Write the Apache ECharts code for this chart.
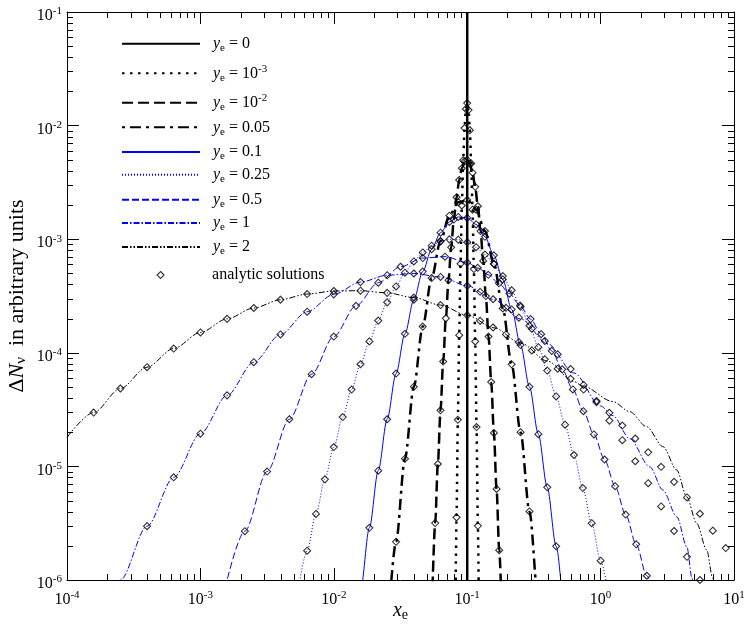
<!DOCTYPE html>
<html><head><meta charset="utf-8">
<script src="https://cdn.jsdelivr.net/npm/echarts@6/dist/echarts.min.js"></script>
<style>html,body{margin:0;padding:0;background:#fff;}#c{width:747px;height:631px;}</style>
</head><body><div id="c"></div>
<script>
const FONT = "'Liberation Serif','Times New Roman',serif";

// ---- data: [x_e, dN] ----
const ye0 = [[0.1, 1e-6], [0.1, 1e-1]];
const ye1e3 = [[0.08128,3.78e-7],[0.08318,3.56e-6],[0.08511,2.57e-5],[0.0871,1.43e-4],[0.08913,6.07e-4],[0.0912,1.98e-3],[0.09333,4.95e-3],[0.0955,9.51e-3],[0.09772,1.40e-2],[0.1,1.58e-2],[0.10233,1.37e-2],[0.10471,9.1e-3],[0.10715,4.65e-3],[0.10965,1.82e-3],[0.1122,5.46e-4],[0.11482,1.26e-4],[0.11749,2.22e-5],[0.12023,3.0e-6],[0.12303,3.12e-7]];
const ye1e2 = [[0.05495,8.6e-7],[0.05754,3.17e-6],[0.06026,1.05e-5],[0.0631,3.12e-5],[0.06607,8.37e-5],[0.06918,2.01e-4],[0.07244,4.36e-4],[0.07586,8.48e-4],[0.07943,1.49e-3],[0.08318,2.34e-3],[0.0871,3.32e-3],[0.0912,4.22e-3],[0.0955,4.84e-3],[0.1,4.99e-3],[0.1047,4.62e-3],[0.1096,3.85e-3],[0.1148,2.89e-3],[0.1202,1.95e-3],[0.1259,1.18e-3],[0.1318,6.44e-4],[0.1380,3.16e-4],[0.1445,1.39e-4],[0.1514,5.53e-5],[0.1585,1.97e-5],[0.1660,6.33e-6],[0.1738,1.83e-6],[0.1820,4.7e-7]];
const ye005 = [[0.02512,3.15e-7],[0.02929,2.17e-6],[0.03415,1.17e-5],[0.03981,5.03e-5],[0.04642,1.70e-4],[0.05412,4.55e-4],[0.0631,9.62e-4],[0.07356,1.61e-3],[0.08577,2.12e-3],[0.1,2.21e-3],[0.1166,1.82e-3],[0.1359,1.18e-3],[0.1585,6.08e-4],[0.1848,2.46e-4],[0.2154,7.92e-5],[0.2512,2.0e-5],[0.2929,4.01e-6],[0.3415,6.35e-7],[0.3981,7.9e-8]];
const ye01 = [[0.01359,1.98e-7],[0.01585,8.0e-7],[0.01848,2.88e-6],[0.02154,9.17e-6],[0.02512,2.60e-5],[0.02929,6.57e-5],[0.03415,1.47e-4],[0.03981,2.93e-4],[0.04642,5.19e-4],[0.05412,8.16e-4],[0.0631,1.14e-3],[0.07356,1.42e-3],[0.08577,1.57e-3],[0.1,1.54e-3],[0.1166,1.35e-3],[0.1359,1.05e-3],[0.1585,7.21e-4],[0.1848,4.42e-4],[0.2154,2.41e-4],[0.2512,1.17e-4],[0.2929,5.02e-5],[0.3415,1.92e-5],[0.3981,6.55e-6],[0.4642,1.98e-6],[0.5412,5.32e-7],[0.631,1.27e-7]];
const ye025 = [[0.005412,8.15e-7],[0.00631,1.81e-6],[0.007356,3.82e-6],[0.008577,7.69e-6],[0.01,1.48e-5],[0.01166,2.72e-5],[0.01359,4.75e-5],[0.01585,7.93e-5],[0.01848,1.26e-4],[0.02154,1.92e-4],[0.02512,2.78e-4],[0.02929,3.84e-4],[0.03415,5.07e-4],[0.03981,6.37e-4],[0.04642,7.65e-4],[0.05412,8.76e-4],[0.0631,9.57e-4],[0.07356,9.97e-4],[0.08577,9.91e-4],[0.1,9.40e-4],[0.1166,8.50e-4],[0.1359,7.33e-4],[0.1585,6.04e-4],[0.1848,4.74e-4],[0.2154,3.55e-4],[0.2512,2.54e-4],[0.2929,1.73e-4],[0.3415,1.12e-4],[0.3981,6.98e-5],[0.4642,4.13e-5],[0.5412,2.33e-5],[0.631,1.26e-5],[0.7356,6.45e-6],[0.8577,3.16e-6],[1.0,1.48e-6],[1.166,6.59e-7]];
const ye05 = [[1.468e-3,6.96e-7],[2.154e-3,2.69e-6],[3.162e-3,9.01e-6],[4.642e-3,2.60e-5],[6.813e-3,6.48e-5],[0.01,1.39e-4],[0.01468,2.59e-4],[0.02154,4.14e-4],[0.03162,5.72e-4],[0.04642,6.82e-4],[0.06813,7.02e-4],[0.1,6.24e-4],[0.12,5.60e-4],[0.144,4.86e-4],[0.1728,4.09e-4],[0.2074,3.32e-4],[0.2488,2.61e-4],[0.2986,1.98e-4],[0.3583,1.46e-4],[0.43,1.04e-4],[0.516,7.15e-5],[0.6192,4.76e-5],[0.743,3.06e-5],[0.8916,1.91e-5],[1.070,1.15e-5],[1.284,6.70e-6],[1.541,3.77e-6],[1.849,2.06e-6],[2.219,1.09e-6],[2.662,5.53e-7]];
const ye1Line = [[1.585e-4,3.0e-7],[2.512e-4,9.97e-7],[3.981e-4,2.98e-6],[6.31e-4,8.02e-6],[1e-3,1.94e-5],[1.585e-3,4.22e-5],[2.512e-3,8.26e-5],[3.981e-3,1.45e-4],[6.31e-3,2.30e-4],[0.01,3.27e-4],[0.01585,4.19e-4],[0.02512,4.82e-4],[0.03981,4.99e-4],[0.0631,4.65e-4],[0.1,3.89e-4],[0.1585,2.93e-4],[0.2512,1.99e-4],[0.3981,1.21e-4],[0.631,6.64e-5],[1.0,3.4e-5],[1.236,2.8e-5],[1.656,1.75e-5],[2.34,9.9e-6],[2.93,6.2e-6],[3.73,3.6e-6],[4.44,1.95e-6],[4.84,1.04e-6],[5.1,6e-7]];
const ye1Analytic = [[3.981e-4,2.98e-6],[6.31e-4,8.02e-6],[1e-3,1.94e-5],[1.585e-3,4.22e-5],[2.512e-3,8.26e-5],[3.981e-3,1.45e-4],[6.31e-3,2.30e-4],[0.01,3.27e-4],[0.01585,4.19e-4],[0.02512,4.82e-4],[0.03981,4.99e-4],[0.0631,4.65e-4],[0.1,3.89e-4],[0.125,3.44e-4],[0.1563,2.96e-4],[0.1953,2.49e-4],[0.2441,2.04e-4],[0.3052,1.63e-4],[0.3815,1.27e-4],[0.4768,9.69e-5],[0.596,7.19e-5],[0.745,5.21e-5],[0.9313,3.68e-5],[1.164,2.53e-5],[1.455,1.70e-5],[1.819,1.11e-5],[2.274,7.12e-6],[2.842,4.44e-6],[3.553,2.70e-6],[4.441,1.60e-6],[5.551,1.0e-6]];
const ye2Line = [[1e-4,1.8e-5],[1.585e-4,2.98e-5],[2.512e-4,4.85e-5],[3.981e-4,7.47e-5],[6.31e-4,1.09e-4],[1e-3,1.51e-4],[1.585e-3,1.99e-4],[2.512e-3,2.48e-4],[3.981e-3,2.93e-4],[6.31e-3,3.29e-4],[0.01,3.50e-4],[0.01585,3.52e-4],[0.02512,3.37e-4],[0.03981,3.06e-4],[0.0631,2.63e-4],[0.1,2.14e-4],[0.1585,1.66e-4],[0.2512,1.22e-4],[0.3981,8.47e-5],[0.631,5.59e-5],[0.735,5.1e-5],[1.236,3.72e-5],[1.656,3.03e-5],[2.21,2.24e-5],[2.94,1.49e-5],[3.72,9.3e-6],[4.42,5.41e-6],[5.25,3.16e-6],[6.24,1.84e-6],[6.92,1.04e-6],[7.4,5e-7]];
const ye2Analytic = [[1.585e-4,2.98e-5],[2.512e-4,4.85e-5],[3.981e-4,7.47e-5],[6.31e-4,1.09e-4],[1e-3,1.51e-4],[1.585e-3,1.99e-4],[2.512e-3,2.48e-4],[3.981e-3,2.93e-4],[6.31e-3,3.29e-4],[0.01,3.50e-4],[0.01585,3.52e-4],[0.02512,3.37e-4],[0.03981,3.06e-4],[0.0631,2.63e-4],[0.1,2.14e-4],[0.125,1.91e-4],[0.1563,1.67e-4],[0.1953,1.45e-4],[0.2441,1.24e-4],[0.3052,1.05e-4],[0.3815,8.77e-5],[0.4768,7.24e-5],[0.596,5.9e-5],[0.745,4.75e-5],[0.9313,3.77e-5],[1.164,2.96e-5],[1.455,2.29e-5],[1.819,1.76e-5],[2.274,1.33e-5],[2.842,9.92e-6],[3.553,7.31e-6],[4.441,5.33e-6],[5.551,3.83e-6],[6.939,2.72e-6],[8.674,1.91e-6]];

const xTickValues = [1e-4, 1e-3, 1e-2, 1e-1, 1, 10];
const yTickValues = [1e-6, 1e-5, 1e-4, 1e-3, 1e-2, 1e-1];
const legendNames = ['ye0','ye1e-3','ye1e-2','ye0.05','ye0.1','ye0.25','ye0.5','ye1','ye2','analytic'];
const legendLabels = ['{i|y}{s|e}{n| = 0}','{i|y}{s|e}{n| = 10}{p|-3}','{i|y}{s|e}{n| = 10}{p|-2}','{i|y}{s|e}{n| = 0.05}','{i|y}{s|e}{n| = 0.1}','{i|y}{s|e}{n| = 0.25}','{i|y}{s|e}{n| = 0.5}','{i|y}{s|e}{n| = 1}','{i|y}{s|e}{n| = 2}','{a|analytic solutions}'];

// minor tick positions (2..9 x 10^k) for the log axes
const xMinor = []; for (let e = -4; e < 1; e++) for (let m = 2; m <= 9; m++) xMinor.push(m * Math.pow(10, e));
const yMinor = []; for (let e = -6; e < -1; e++) for (let m = 2; m <= 9; m++) yMinor.push(m * Math.pow(10, e));

const X0 = xTickValues[0], X1 = xTickValues[xTickValues.length - 1];
const Y0 = yTickValues[0], Y1 = yTickValues[yTickValues.length - 1];

const rich = {
  i: {fontFamily: FONT, fontStyle: 'italic', fontSize: 16, lineHeight: 20, color: '#000', padding: [0,0,0,8]},
  s: {fontFamily: FONT, fontSize: 11, lineHeight: 10, verticalAlign: 'bottom', color: '#000'},
  n: {fontFamily: FONT, fontSize: 16, lineHeight: 20, color: '#000'},
  p: {fontFamily: FONT, fontSize: 11, lineHeight: 10, verticalAlign: 'top', color: '#000'},
  a: {fontFamily: FONT, fontSize: 16, lineHeight: 20, color: '#000', padding: [0,0,0,43]}
};
const axisRich = {
  b: {fontFamily: FONT, fontSize: 16, lineHeight: 20, color: '#000'},
  p: {fontFamily: FONT, fontSize: 11, lineHeight: 9, verticalAlign: 'top', color: '#000'}
};
function expLabel(v) { return '{b|10}{p|' + Math.round(Math.log10(v)) + '}'; }

function lineSeries(name, data, color, width, type, smooth) {
  return {type: 'line', name, data, symbol: 'none', showSymbol: false, smooth: smooth, smoothMonotone: 'x',
    lineStyle: {color, width, type, cap: 'butt'}, itemStyle: {color}, z: 3, animation: false, clip: true};
}

const analytic = [].concat(ye1e3, ye1e2, ye005, ye01, ye025, ye05, ye1Analytic, ye2Analytic)
  .filter(p => p[1] >= Y0 * 0.999 && p[1] <= Y1);

const rowsY = [45.7, 73.3, 102.7, 129.3, 154, 176.7, 201.7, 225, 249, 277];
const legends = legendNames.map((nm, i) => {
  const isA = nm === 'analytic';
  return {
    data: [nm], left: isA ? 156.5 : 121, top: rowsY[i] - 10, padding: 0, itemGap: 0,
    itemWidth: isA ? 7 : 78, itemHeight: isA ? 7 : 20, selectedMode: false, symbolKeepAspect: true,
    formatter: () => legendLabels[i],
    textStyle: {rich, fontFamily: FONT, fontSize: 16, color: '#000'},
    itemStyle: isA ? {color: 'rgba(0,0,0,0)', borderColor: '#000', borderWidth: 1.1} : {opacity: 0}
  };
});

function tickSeries(axis) {
  return {
    type: 'custom', silent: true, z: 5, clip: false, animation: false,
    data: (axis === 'x' ? xMinor : yMinor).map(v => axis === 'x' ? [v, 1e-3] : [1e-2, v]),
    renderItem: (params, api) => {
      const st = {stroke: '#000', lineWidth: 1};
      if (axis === 'x') {
        const v = api.value(0);
        const a = api.coord([v, Y0]), b = api.coord([v, Y1]);
        const x = Math.round(a[0]) + 0.5;
        return {type: 'group', children: [
          {type: 'line', shape: {x1: x, y1: a[1], x2: x, y2: a[1] - 6}, style: st},
          {type: 'line', shape: {x1: x, y1: b[1], x2: x, y2: b[1] + 6}, style: st}]};
      } else {
        const v = api.value(1);
        const a = api.coord([X0, v]), b = api.coord([X1, v]);
        const y = Math.round(a[1]) + 0.5;
        return {type: 'group', children: [
          {type: 'line', shape: {x1: a[0], y1: y, x2: a[0] + 6, y2: y}, style: st},
          {type: 'line', shape: {x1: b[0], y1: y, x2: b[0] - 6, y2: y}, style: st}]};
      }
    }
  };
}

const axisCommon = {
  type: 'log', logBase: 10, splitNumber: 5,
  axisLine: {show: true, lineStyle: {color: '#000', width: 1}},
  axisTick: {show: true, inside: true, length: 12, lineStyle: {color: '#000', width: 1}},
  splitLine: {show: false}, minorTick: {show: false}, minorSplitLine: {show: false}
};

const chart = echarts.init(document.getElementById('c'), null, {renderer: 'canvas'});
chart.setOption({
  animation: false,
  backgroundColor: '#fff',
  grid: {left: 67, top: 12, width: 667, height: 568, outerBoundsMode: 'none', containLabel: false},
  legend: legends,
  xAxis: [
    Object.assign({}, axisCommon, {position: 'bottom', min: X0, max: X1,
      axisLabel: {show: true, margin: 10, formatter: expLabel, rich: axisRich, fontFamily: FONT},
      name: '{i|x}{s|e}', nameLocation: 'middle', nameGap: 20, nameMoveOverlap: false,
      nameTextStyle: {rich: {i: {fontFamily: FONT, fontStyle: 'italic', fontSize: 20, lineHeight: 22, color: '#000'},
                              s: {fontFamily: FONT, fontSize: 14, lineHeight: 12, verticalAlign: 'bottom', color: '#000'}}}}),
    Object.assign({}, axisCommon, {position: 'top', min: X0, max: X1, axisLabel: {show: false}})
  ],
  yAxis: [
    Object.assign({}, axisCommon, {position: 'left', min: Y0, max: Y1,
      axisLabel: {show: true, margin: 5, formatter: expLabel, rich: axisRich, fontFamily: FONT, padding: [8,0,0,0]},
      name: '{d|Δ}{i|N}{s|ν}{n|  in arbitrary units}', nameLocation: 'middle', nameGap: 38, nameRotate: 90, nameMoveOverlap: false,
      nameTextStyle: {rich: {d: {fontFamily: FONT, fontSize: 22, lineHeight: 24, color: '#000'},
                              i: {fontFamily: FONT, fontStyle: 'italic', fontSize: 22, lineHeight: 24, color: '#000'},
                              s: {fontFamily: FONT, fontSize: 15, lineHeight: 12, verticalAlign: 'bottom', color: '#000'},
                              n: {fontFamily: FONT, fontSize: 22, lineHeight: 24, color: '#000'}}}}),
    Object.assign({}, axisCommon, {position: 'right', min: Y0, max: Y1, axisLabel: {show: false}})
  ],
  series: [
    lineSeries('ye0', ye0, '#000', 2.5, 'solid', false),
    lineSeries('ye1e-3', ye1e3, '#000', 2.5, [2.5, 5.5], 0.2),
    lineSeries('ye1e-2', ye1e2, '#000', 2.5, [11, 5], 0.3),
    lineSeries('ye0.05', ye005, '#000', 2.5, [3, 5, 11, 5], 0.3),
    lineSeries('ye0.1', ye01, '#0000ff', 1, 'solid', 0.3),
    lineSeries('ye0.25', ye025, '#0000ff', 1, [1, 2], 0.3),
    lineSeries('ye0.5', ye05, '#0000ff', 1, [7, 3], 0.3),
    lineSeries('ye1', ye1Line, '#0000ff', 1, [6, 2, 1.5, 2], 0.3),
    lineSeries('ye2', ye2Line, '#000', 1, [6, 2, 1.5, 2, 1.5, 2], 0.3),
    {type: 'scatter', name: 'analytic', data: analytic, symbol: 'diamond', symbolSize: 7, z: 4,
      itemStyle: {color: 'rgba(0,0,0,0)', borderColor: '#000', borderWidth: 1.1}, animation: false},
    tickSeries('x'), tickSeries('y')
  ]
});
</script></body></html>
